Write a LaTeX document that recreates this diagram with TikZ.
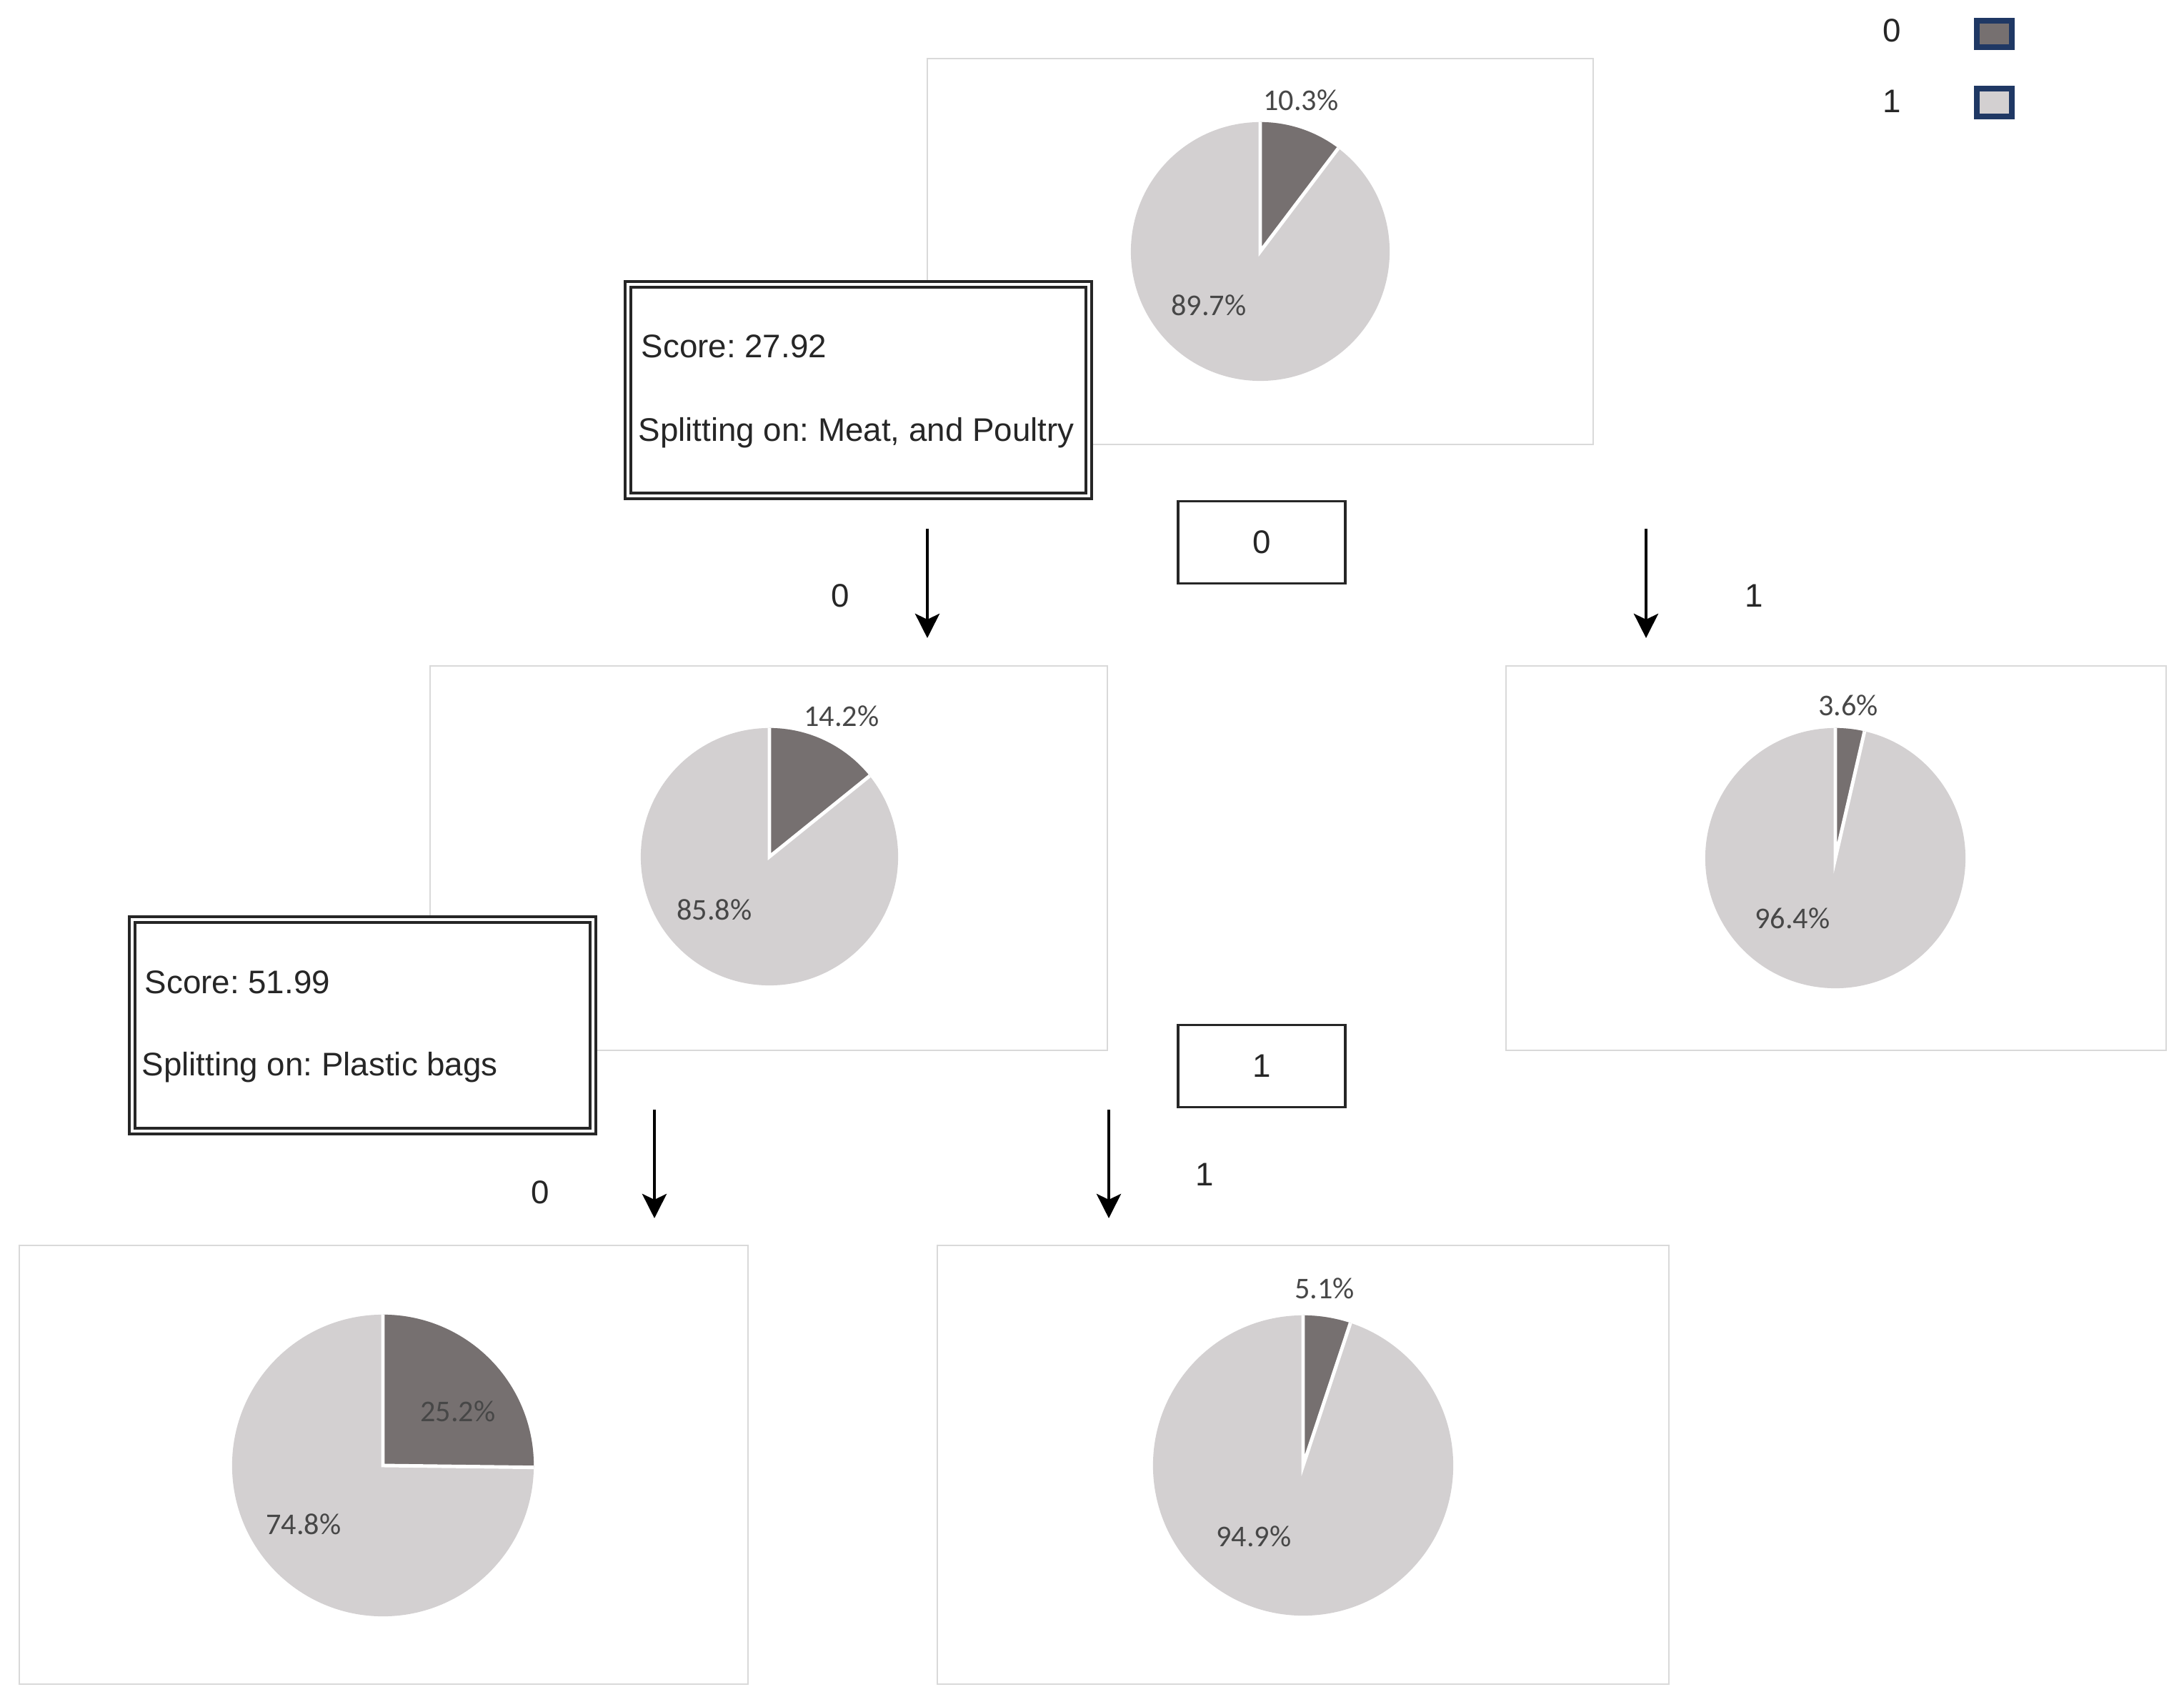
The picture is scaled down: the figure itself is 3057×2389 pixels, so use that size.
\documentclass[tikz,border=0pt]{standalone}
\usepackage{fontspec}
\setmainfont{Liberation Sans}
\newfontfamily\pielabelfont{Carlito}
\usetikzlibrary{arrows.meta}
\frenchspacing
\definecolor{slicedark}{HTML}{767070}
\definecolor{slicelight}{HTML}{D3D0D1}
\definecolor{panelline}{HTML}{D9D9D9}
\definecolor{legendnavy}{HTML}{1F3864}
\definecolor{pietext}{HTML}{474747}
\tikzset{
  panel/.style={draw=panelline, line width=0.8pt, fill=white},
  scorebox/.style={draw=black!85, line width=1.3pt, double=white, double distance=0.9pt},
  valbox/.style={draw=black!85, line width=1.1pt, fill=white},
  branch/.style={line width=1.4pt, -{Stealth[length=0.34cm, width=0.34cm, inset=0.08cm]}},
  lbl/.style={font=\fontsize{13}{15}\selectfont, text=black!85, inner sep=0pt},
  boxtext/.style={font=\fontsize{13}{15}\selectfont, text=black!85, anchor=base west, inner sep=0pt},
  pct/.style={font=\pielabelfont\fontsize{12}{14}\selectfont, text=pietext, inner sep=0pt},
}
\newcommand\piechart[3]{% center coordinate name, radius in cm, dark percent
  \begin{scope}[shift={(#1)}, x=1cm, y=1cm]
    \fill[slicelight] (0,0) circle[radius=#2];
    \pgfmathsetmacro\pieend{90-3.6*#3}
    \fill[slicedark] (0,0) -- (90:#2) arc[start angle=90, end angle=\pieend, radius=#2] -- cycle;
    \draw[white, line width=1.4pt] (90:#2) -- (0,0) -- (\pieend:#2);
  \end{scope}}
\begin{document}
\begin{tikzpicture}[x=0.01cm, y=-0.01cm]
  \useasboundingbox (0,0) rectangle (3057,2389);
  % panels
  \draw[panel] (1298,82) rectangle (2230,622);
  \draw[panel] (602,932) rectangle (1550,1470);
  \draw[panel] (2108,932) rectangle (3032,1470);
  \draw[panel] (27,1743) rectangle (1047,2357);
  \draw[panel] (1312,1743) rectangle (2336,2357);
  % pie centres
  \coordinate (p0) at (1764,352);
  \coordinate (p1) at (1077,1199);
  \coordinate (p2) at (2569,1201);
  \coordinate (p3) at (536,2051);
  \coordinate (p4) at (1824,2051);
  \piechart{p0}{1.81}{10.3}
  \piechart{p1}{1.80}{14.2}
  \piechart{p2}{1.82}{3.6}
  \piechart{p3}{2.11}{25.2}
  \piechart{p4}{2.10}{5.1}
  % pie labels
  \node[pct] (t03) at (1821,140) {10.3\%};
  \node[pct] (t97) at (1692,427) {89.7\%};
  \node[pct] (t14) at (1178,1002) {14.2\%};
  \node[pct] (t86) at (1000,1273) {85.8\%};
  \node[pct] (t36) at (2587,987) {3.6\%};
  \node[pct] (t96) at (2509,1285) {96.4\%};
  \node[pct] (t25) at (641,1975) {25.2\%};
  \node[pct] (t75) at (425,2133) {74.8\%};
  \node[pct] (t51) at (1854,1803) {5.1\%};
  \node[pct] (t95) at (1755,2150) {94.9\%};
  % score boxes
  \fill[white] (873,392) rectangle (1530,700);
  \draw[scorebox] (879,398) rectangle (1524,694);
  \node[boxtext] (s1a) at (897,501) {Score: 27.92};
  \node[boxtext] (s1b) at (893,618) {Splitting on: Meat, and Poultry};
  \fill[white] (179,1281) rectangle (836,1589);
  \draw[scorebox] (185,1287) rectangle (830,1583);
  \node[boxtext] (s2a) at (202,1390) {Score: 51.99};
  \node[boxtext] (s2b) at (198,1505) {Splitting on: Plastic bags};
  % value boxes
  \node[valbox, minimum width=2.34cm, minimum height=1.15cm, lbl, draw=black!85, line width=1.1pt] (v0) at (1766,759) {0};
  \node[valbox, minimum width=2.34cm, minimum height=1.15cm, lbl, draw=black!85, line width=1.1pt] (v1) at (1766,1492) {1};
  % branch arrows
  \coordinate (a1s) at (1298,740); \coordinate (a1e) at (1298,893);
  \coordinate (a2s) at (2304,740); \coordinate (a2e) at (2304,893);
  \coordinate (a3s) at (916,1553); \coordinate (a3e) at (916,1705);
  \coordinate (a4s) at (1552,1553); \coordinate (a4e) at (1552,1705);
  \draw[branch] (a1s) -- (a1e);
  \draw[branch] (a2s) -- (a2e);
  \draw[branch] (a3s) -- (a3e);
  \draw[branch] (a4s) -- (a4e);
  \node[lbl] (b1) at (1176,834) {0};
  \node[lbl] (b2) at (2455,834) {1};
  \node[lbl] (b3) at (756,1669) {0};
  \node[lbl] (b4) at (1686,1644) {1};
  % legend
  \node[lbl] (l0) at (2648,43) {0};
  \node[lbl] (l1) at (2648,142) {1};
  \draw[legendnavy, line width=2.3pt, fill=slicedark] (2767,29) rectangle (2816,66);
  \draw[legendnavy, line width=2.3pt, fill=slicelight] (2767,124) rectangle (2816,163);
\end{tikzpicture}
\end{document}
